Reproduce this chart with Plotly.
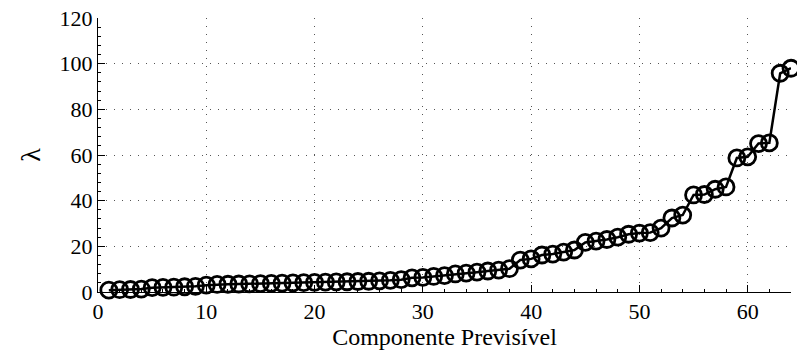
import plotly.graph_objects as go

components = list(range(1, 65))
lam = [0.8, 1.0, 1.1, 1.3, 1.9, 2.0, 2.1, 2.3, 2.5, 3.0,
       3.3, 3.4, 3.5, 3.6, 3.7, 3.8, 3.9, 4.0, 4.1, 4.2,
       4.3, 4.4, 4.5, 4.6, 4.7, 4.9, 5.1, 5.4, 6.2, 6.4,
       6.8, 7.2, 7.9, 8.3, 8.7, 9.2, 9.6, 10.2, 14.0, 14.5,
       16.2, 16.6, 17.5, 18.4, 21.7, 22.3, 23.0, 24.0, 25.3, 25.8,
       26.0, 28.0, 32.4, 33.7, 42.5, 42.7, 45.0, 46.0, 58.7, 59.2,
       65.0, 65.3, 95.8, 98.0]

x_ticks = [0, 10, 20, 30, 40, 50, 60]
y_ticks = [0, 20, 40, 60, 80, 100, 120]

FAM = "'Liberation Serif', 'DejaVu Serif', serif"

fig = go.Figure()
fig.add_trace(go.Scatter(
    x=components, y=lam, mode="lines+markers",
    line=dict(color="black", width=2.5),
    marker=dict(symbol="circle-open", size=16, color="black",
                line=dict(color="black", width=2.8)),
    cliponaxis=False, showlegend=False,
))

font = dict(family=FAM, size=22, color="black")
fig.update_layout(
    width=797, height=362,
    margin=dict(l=98, r=6, t=18, b=70),
    plot_bgcolor="white", paper_bgcolor="white",
    font=font,
    xaxis=dict(
        range=[0, 64], tickvals=x_ticks, ticks="inside", ticklen=7,
        tickcolor="black", showline=True, linecolor="black", linewidth=1,
        showgrid=True, gridcolor="#555", gridwidth=1, griddash="1px,7px",
        zeroline=False, title=dict(text="Componente Previsível",
                                   font=dict(family=FAM, size=24), standoff=0),
        minor=dict(dtick=2, ticks="inside", ticklen=3, tickcolor="black", showgrid=False),
        tickfont=font,
    ),
    yaxis=dict(
        range=[0, 120], tickvals=y_ticks, ticks="inside", ticklen=7,
        tickcolor="black", showline=True, linecolor="black", linewidth=1,
        showgrid=True, gridcolor="#555", gridwidth=1, griddash="1px,7px",
        zeroline=False, title=dict(text="λ", font=dict(family=FAM, size=28), standoff=10),
        minor=dict(dtick=4, ticks="inside", ticklen=3, tickcolor="black", showgrid=False),
        tickfont=font,
    ),
)

fig.write_html("out.html")
